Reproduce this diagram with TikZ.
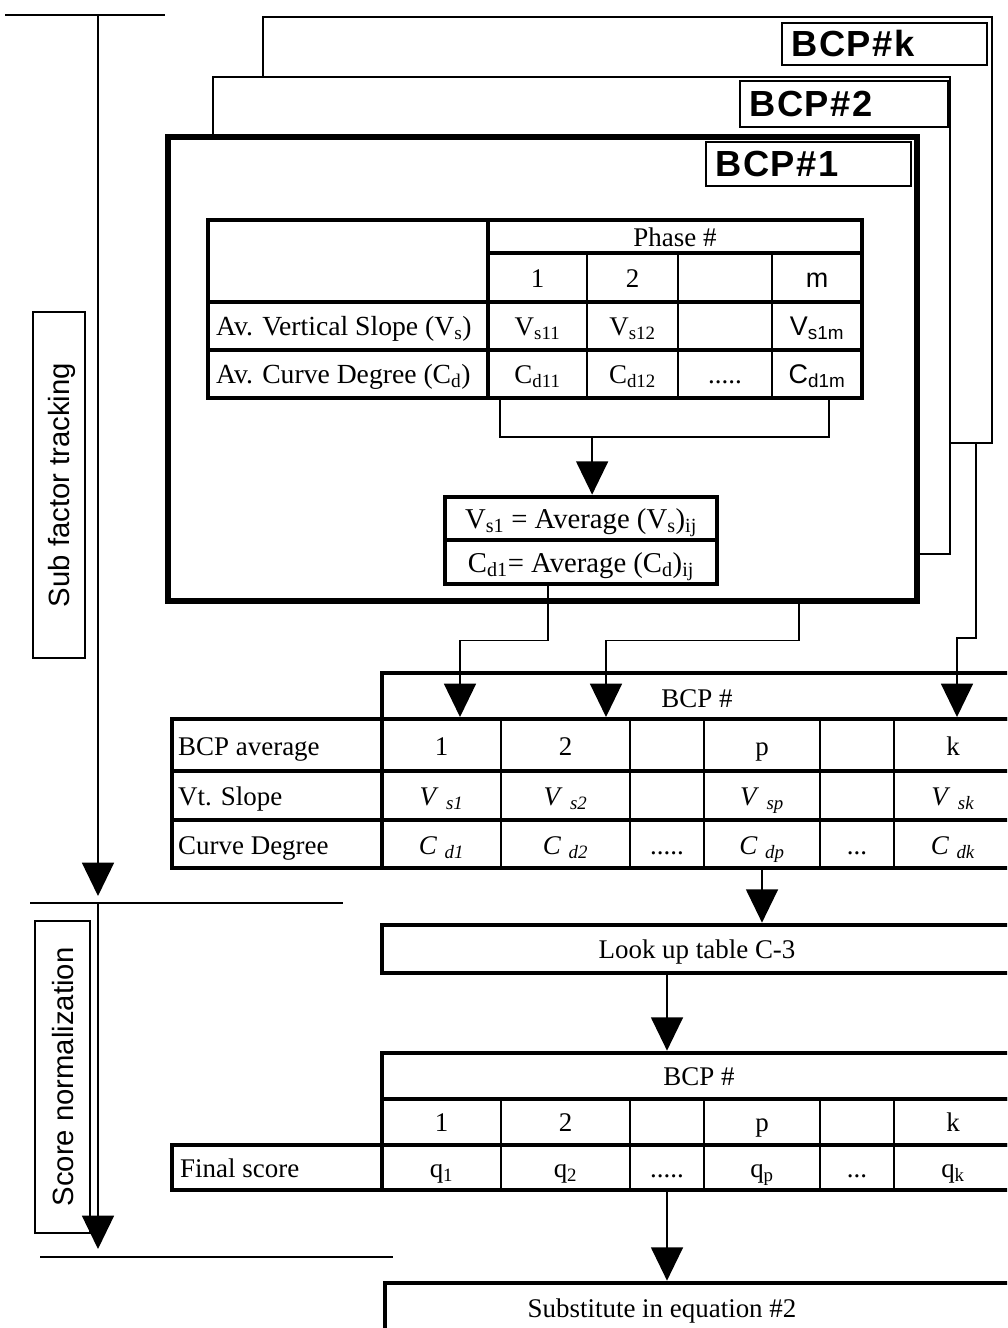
\documentclass[tikz,border=0pt]{standalone}
\usepackage{fontspec}
\setmainfont{Liberation Serif}
\setsansfont{Liberation Sans}
\usetikzlibrary{positioning,fit,calc,arrows.meta}

\begin{document}
\begin{tikzpicture}[
    x=0.3mm, y=-0.3mm,
    every node/.style={font=\fontsize{23}{26}\selectfont, inner sep=0pt,
      text height=16pt, text depth=0pt},
    big/.style={font=\fontsize{24.5}{28}\selectfont},
    frame/.style={draw, fill=white, line width=1.3pt},
    mainframe/.style={frame, line width=4.5pt},
    tag/.style={draw, fill=white, line width=1.4pt},
    tagtxt/.style={text height=22pt,
      font=\sffamily\bfseries\fontsize{31}{36}\selectfont\addfontfeature{LetterSpace=4}},
    stage/.style={draw, line width=1.2pt, rotate=90, text height=18pt,
      font=\sffamily\fontsize{25}{28}\selectfont},
    tbl/.style={draw, line width=4pt},
    rowline/.style={line width=3.5pt},
    colline/.style={line width=2pt},
    wire/.style={line width=1.3pt},
    arrow/.style={wire, -{Triangle[width=9.6mm, length=10mm]}}
  ]
  \path[use as bounding box] (0,0) rectangle (1007,1328);
  \clip (0,0) rectangle (1007,1328);

  % stacked BCP frames
  \node[frame, fit={(263,17) (992,443)}] (bcpk) {};
  \node[tag, fit={(782,23) (987,65)}] (tagk) {};
  \node[tagtxt, right=3mm of tagk.west] (tagktxt) {BCP\#k};
  \node[frame, fit={(213,77) (950,554)}] (bcp2) {};
  \node[tag, fit={(740,81) (948,127)}] (tag2) {};
  \node[tagtxt, right=3mm of tag2.west] (tag2txt) {BCP\#2};
  \node[mainframe, fit={(168,137) (917,601)}] (bcp1) {};
  \node[tag, fit={(706,142) (911,186)}] (tag1) {};
  \node[tagtxt, right=3mm of tag1.west] (tag1txt) {BCP\#1};

  % phase table
  \node[tbl, fit={(208,220) (862,398)}] (ptab) {};
  \draw[rowline] (488,253) -- (862,253);
  \draw[rowline] (208,302) -- (862,302);
  \draw[rowline] (208,350) -- (862,350);
  \draw[rowline] (488,220) -- (488,398);
  \foreach \x in {587,678,772}
    \draw[colline] (\x,253) -- (\x,398);
  \node (phase) at (675,237) {Phase \#};
  \node (ph1) at (537.5,278) {1};
  \node (ph2) at (632.5,278) {2};
  \node (phm) at (817,278) {\sffamily m};
  \node[anchor=west, font=\fontsize{23.6}{27}\selectfont] (lvs) at (216,326) {Av. Vertical Slope (V\textsubscript{s})};
  \node[anchor=west, font=\fontsize{23.6}{27}\selectfont] (lcd) at (216,374) {Av. Curve Degree (C\textsubscript{d})};
  \node (vs11) at (537.5,326) {V\textsubscript{s11}};
  \node (vs12) at (632.5,326) {V\textsubscript{s12}};
  \node (vs1m) at (817,326) {\sffamily V\textsubscript{s1m}};
  \node (cd11) at (537.5,374) {C\textsubscript{d11}};
  \node (cd12) at (632.5,374) {C\textsubscript{d12}};
  \node (cddots) at (725,374) {.....};
  \node (cd1m) at (817,374) {\sffamily C\textsubscript{d1m}};

  % averages
  \node[tbl, fit={(445,497) (717,584)}] (avg) {};
  \draw[rowline] (445,540) -- (717,540);
  \node[big] (avgv) at (581,519) {V\textsubscript{s1} = Average (V\textsubscript{s})\textsubscript{ij}};
  \node[big] (avgc) at (581,563) {C\textsubscript{d1}= Average (C\textsubscript{d})\textsubscript{ij}};

  \coordinate (brl) at (500,437);
  \coordinate (brr) at (829,437);
  \coordinate (bra) at ($(brl)!0.28!(brr)$);
  \draw[wire] (brl |- ptab.south) -- (brl) -- (brr) -- (brr |- ptab.south);
  \draw[arrow] (bra) -- (bra |- avg.north);

  % BCP table
  \node[tbl, fit={(382,673) (1012,719)}] (bhead) {};
  \node (bheadtxt) at (697,698) {BCP \#};
  \node[tbl, fit={(172,719) (1012,868)}] (btab) {};
  \draw[rowline] (172,771) -- (1012,771);
  \draw[rowline] (172,820) -- (1012,820);
  \draw[rowline] (382,719) -- (382,868);
  \foreach \x in {501,630,704,820,894}
    \draw[colline] (\x,719) -- (\x,868);
  \node[anchor=west] (lavg) at (178,746) {BCP average};
  \node[anchor=west] (lslope) at (178,796) {Vt. Slope};
  \node[anchor=west] (ldeg) at (178,845) {Curve Degree};
  \foreach \x/\t [count=\i] in {441.5/1, 565.5/2, 762/p, 953/k} {
    \node (bn\i) at (\x,746) {\t};
    \node (bv\i) at (\x,796) {\textit{V}\;\textsubscript{\textit{s\t}}};
    \node (bc\i) at (\x,845) {\textit{C}\;\textsubscript{\textit{d\t}}};
  }
  \node (bdots1) at (667,845) {.....};
  \node (bdots2) at (857,845) {...};

  \coordinate (in1) at (460,717);
  \coordinate (in2) at (606,717);
  \coordinate (in3) at (957,717);
  \draw[arrow] ([xshift=-9.9mm]avg.south) -- ++(0,54) -| (in1);
  \draw[arrow] ([xshift=77mm]bcp1.south) -- ++(0,37) -| (in2);
  \draw[arrow] ([xshift=104.6mm]bcpk.south) -- ++(0,194) -| (in3);

  % look up
  \node[tbl, fit={(382,925) (1012,973)}] (lookup) {};
  \node (lookuptxt) at (697,949) {Look up table C-3};
  \draw[arrow] (btab.south -| bc3) -- (lookup.north -| bc3);

  % final table
  \node[tbl, fit={(382,1053) (1012,1099)}] (fhead) {};
  \node (fheadtxt) at (699,1076) {BCP \#};
  \node[tbl, fit={(382,1099) (1012,1145)}] (fnum) {};
  \node[tbl, fit={(172,1145) (1012,1190)}] (fscore) {};
  \draw[rowline] (382,1145) -- (382,1190);
  \foreach \x in {501,630,704,820,894}
    \draw[colline] (\x,1099) -- (\x,1190);
  \node[anchor=west] (lfinal) at (180,1168) {Final score};
  \foreach \x/\t [count=\i] in {441.5/1, 565.5/2, 762/p, 953/k} {
    \node (fn\i) at (\x,1122) {\t};
    \node (fq\i) at (\x,1168) {q\textsubscript{\t}};
  }
  \node (fdots) at (667,1168) {.....};
  \node (fdots2) at (857,1168) {...};
  \draw[arrow] (lookup.south -| fdots) -- (fhead.north -| fdots);

  % substitute
  \node[tbl, fit={(385,1283) (1012,1345)}] (subst) {};
  \node (substtxt) at (662,1308) {Substitute in equation \#2};
  \draw[arrow] (fscore.south -| fdots) -- (subst.north -| fdots);

  % stages on the left
  \draw[wire] (5,15) -- (165,15);
  \draw[wire] (30,903) -- (343,903);
  \draw[wire] (40,1257) -- (393,1257);
  \coordinate (trk0) at (98,15);
  \coordinate (trk1) at (98,896);
  \coordinate (nrm0) at (98,903);
  \coordinate (nrm1) at (98,1249);
  \draw[arrow] (trk0) -- (trk1);
  \draw[arrow] (nrm0) -- (nrm1);
  \node[stage, minimum width=103.8mm, minimum height=15.6mm] (subfac) at (59,485) {Sub factor tracking};
  \node[stage, minimum width=93.6mm, minimum height=16.5mm] (scorenorm) at (62.5,1077) {Score normalization};
\end{tikzpicture}
\end{document}
